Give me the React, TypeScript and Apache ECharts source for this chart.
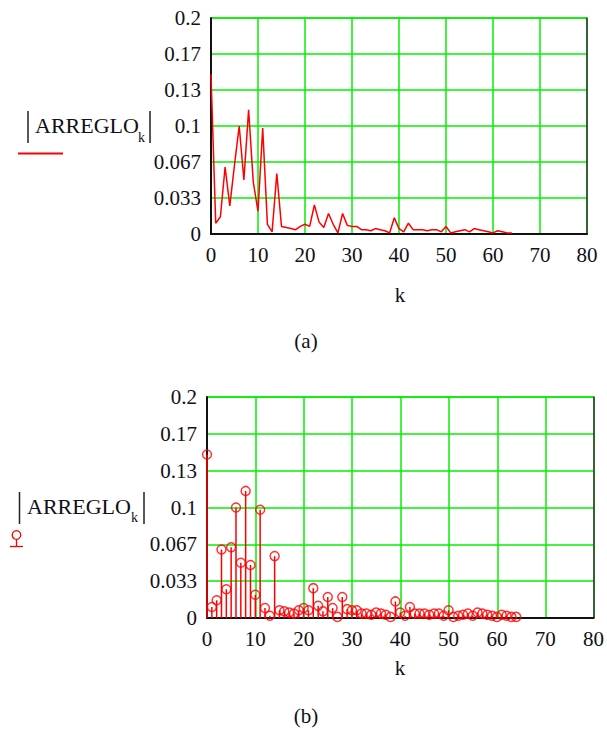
import React, { useEffect, useRef } from "react";
import * as echarts from "echarts";

// |ARREGLO_k| magnitudes, k = 0..64
const magnitudes = [
  0.148, 0.01, 0.016, 0.062, 0.026, 0.064, 0.1, 0.05, 0.115, 0.048,
  0.021, 0.098, 0.009, 0.002, 0.056, 0.007, 0.006, 0.005, 0.004, 0.007,
  0.009, 0.007, 0.027, 0.011, 0.006, 0.019, 0.009, 0.001, 0.019, 0.008,
  0.007, 0.007, 0.004, 0.004, 0.003, 0.005, 0.004, 0.003, 0.001, 0.015,
  0.005, 0.002, 0.01, 0.004, 0.004, 0.004, 0.003, 0.004, 0.004, 0.002,
  0.007, 0.001, 0.002, 0.003, 0.004, 0.002, 0.005, 0.004, 0.003, 0.002,
  0.001, 0.003, 0.002, 0.001, 0.001,
];
const xMin = 0;
const xMax = 80;
const xStep = 10;
const yMin = 0;
const yMax = 0.2;
const yStep = 1 / 30;
const axisTitle = "ARREGLO";
const axisSub = "k";
const xTitle = "k";
const captions = ["(a)", "(b)"];

const FONT = "'Liberation Serif', 'DejaVu Serif', serif";
const GREEN = "#00f000";
const RED = "#ff0000";
const TEXT = "#101018";

export default function App() {
  const ref = useRef<HTMLDivElement>(null);
  useEffect(() => {
    if (!ref.current) return;
    const chart = echarts.init(ref.current, undefined, { renderer: "svg" });
    const pts = magnitudes.map((v, i) => [i, v]);
    const gA = { left: 211, top: 18, width: 376, height: 216 };
    const gB = { left: 207, top: 397, width: 387, height: 221 };
    const yFmt = (v: number) => (v === 0 ? "0" : String(parseFloat(v.toPrecision(2))));
    const lineX = (grid: number) => ({
      type: "value", gridIndex: grid, min: xMin, max: xMax, interval: xStep, z: 0,
      axisLine: { show: false }, axisTick: { show: false }, axisLabel: { show: false },
      splitLine: { show: true, lineStyle: { color: GREEN, width: 1.5 } },
    });
    const lineY = (grid: number) => ({
      type: "value", gridIndex: grid, min: yMin, max: yMax, interval: yStep, z: 0,
      axisLine: { show: false }, axisTick: { show: false }, axisLabel: { show: false },
      splitLine: { show: true, lineStyle: { color: GREEN, width: 1.5 } },
    });
    const mainX = (grid: number) => ({
      type: "value", gridIndex: grid, min: xMin, max: xMax, interval: xStep, z: 1,
      axisLine: { show: true, onZero: false, lineStyle: { color: "#111", width: 2 } },
      axisTick: { show: false }, splitLine: { show: false },
      axisLabel: { show: true, margin: 10, fontFamily: FONT, fontSize: 21, color: TEXT },
    });
    const mainY = (grid: number) => ({
      type: "value", gridIndex: grid, min: yMin, max: yMax, interval: yStep, z: 1, position: "left",
      axisLine: { show: true, onZero: false, lineStyle: { color: "#111", width: 2 } },
      axisTick: { show: false }, splitLine: { show: false },
      axisLabel: { show: true, margin: 10, fontFamily: FONT, fontSize: 21, color: TEXT, formatter: yFmt },
    });
    const rightY = (grid: number) => ({
      type: "value", gridIndex: grid, min: yMin, max: yMax, interval: yStep, z: 1, position: "right",
      axisLine: { show: true, onZero: false, lineStyle: { color: "#333", width: 1.5 } },
      axisTick: { show: false }, splitLine: { show: false }, axisLabel: { show: false },
    });
    const txt = (x: number, y: number, text: string, size: number, align = "left") => ({
      type: "text", x, y, z: 10,
      style: { text, fontFamily: FONT, fontSize: size, fill: TEXT, align, verticalAlign: "middle" },
    });
    const bar = (x: number, y1: number, y2: number) => ({
      type: "line", z: 10, shape: { x1: x, y1, x2: x, y2 }, style: { stroke: "#222", lineWidth: 1.5 },
    });
    chart.setOption({
      animation: false,
      backgroundColor: "#fff",
      grid: [
        { ...gA, containLabel: false },
        { ...gA, containLabel: false },
        { ...gB, containLabel: false },
        { ...gB, containLabel: false },
      ],
      xAxis: [lineX(0), mainX(1), lineX(2), mainX(3)],
      yAxis: [lineY(0), mainY(1), rightY(1), lineY(2), mainY(3), rightY(3)],
      series: [
        {
          type: "line", xAxisIndex: 1, yAxisIndex: 1, data: pts, showSymbol: false,
          lineStyle: { color: RED, width: 1.5 }, z: 3,
        },
        {
          type: "bar", xAxisIndex: 3, yAxisIndex: 4, data: pts, barWidth: 1.5,
          itemStyle: { color: RED }, z: 3,
        },
        {
          type: "scatter", xAxisIndex: 3, yAxisIndex: 4, data: pts, symbol: "circle", symbolSize: 9,
          itemStyle: { color: "rgba(255,255,255,0)", borderColor: RED, borderWidth: 1.5 }, z: 4,
        },
      ],
      graphic: [
        // chart (a) y title
        bar(28, 111, 143),
        txt(35, 125, axisTitle, 22),
        txt(138, 137, axisSub, 14),
        bar(150, 111, 143),
        { type: "line", z: 10, shape: { x1: 18, y1: 153.5, x2: 63, y2: 153.5 }, style: { stroke: RED, lineWidth: 2 } },
        txt(400, 295, xTitle, 21, "center"),
        txt(306, 341, captions[0], 21, "center"),
        // chart (b) y title
        bar(19.5, 492, 524),
        txt(27, 506, axisTitle, 22),
        txt(131, 517, axisSub, 14),
        bar(144, 492, 524),
        { type: "circle", z: 10, shape: { cx: 16.5, cy: 535, r: 4.3 }, style: { fill: "none", stroke: RED, lineWidth: 1.3 } },
        { type: "line", z: 10, shape: { x1: 16.5, y1: 539.3, x2: 16.5, y2: 546.5 }, style: { stroke: RED, lineWidth: 1.3 } },
        { type: "line", z: 10, shape: { x1: 10, y1: 546.5, x2: 23, y2: 546.5 }, style: { stroke: RED, lineWidth: 1.3 } },
        txt(400, 668, xTitle, 21, "center"),
        txt(306, 716, captions[1], 21, "center"),
      ],
    });
    return () => chart.dispose();
  }, []);
  return (
    <div
      ref={ref}
      style={{ position: "absolute", left: 0, top: 0, width: 607, height: 738, background: "#fff" }}
    />
  );
}
